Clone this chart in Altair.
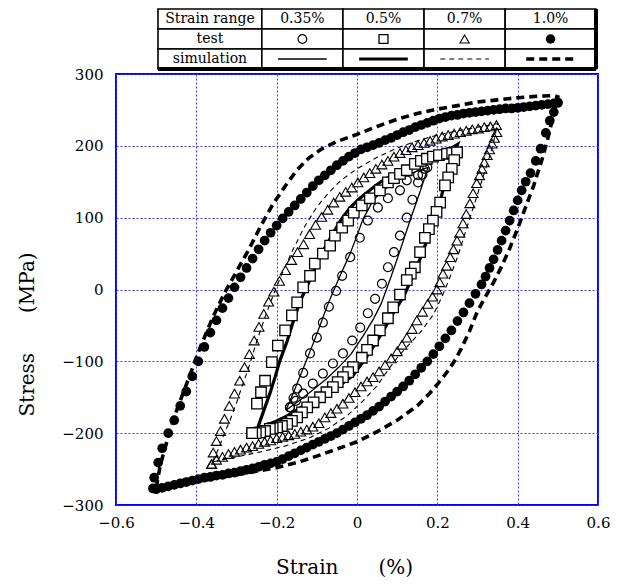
import altair as alt
import pandas as pd

# ---------------- data ----------------
series_labels = ["0.35%", "0.5%", "0.7%", "1.0%"]
table_header = "Strain range"
table_row_labels = ["test", "simulation"]
x_title = "Strain\u2003\u2003(%)"
y_title = "Stress\u2003\u2003(MPa)"

x_ticks = [-0.6, -0.4, -0.2, 0.0, 0.2, 0.4, 0.6]
y_ticks = [-300, -200, -100, 0, 100, 200, 300]

# test data: (strain %, stress MPa)
t035_up = [(-0.167, -164), (-0.158, -151), (-0.149, -138), (-0.134, -116), (-0.117, -89), (-0.100, -67),
           (-0.085, -46), (-0.070, -24), (-0.052, -2), (-0.037, 19), (-0.017, 45), (0.007, 72), (0.027, 96),
           (0.052, 114), (0.077, 127), (0.107, 138), (0.124, 152), (0.152, 159), (0.169, 168)]
t035_dn = [(0.175, 170), (0.163, 160), (0.152, 149), (0.138, 125), (0.124, 100), (0.107, 75), (0.092, 52),
           (0.077, 31), (0.062, 8), (0.045, -13), (0.027, -33), (0.008, -53), (-0.012, -71), (-0.035, -89),
           (-0.060, -103), (-0.085, -117), (-0.110, -131), (-0.134, -145), (-0.152, -155), (-0.167, -164)]

t05_up = [(-0.261, -200), (-0.249, -159), (-0.239, -143), (-0.229, -127), (-0.212, -101), (-0.197, -78),
          (-0.179, -57), (-0.162, -36), (-0.149, -18), (-0.134, 3), (-0.117, 19), (-0.105, 36), (-0.085, 50),
          (-0.067, 61), (-0.055, 75), (-0.037, 86), (-0.022, 96), (-0.008, 107), (0.012, 117), (0.032, 127),
          (0.057, 138), (0.077, 149), (0.092, 155), (0.107, 161), (0.124, 166), (0.144, 175), (0.159, 179),
          (0.174, 182), (0.189, 185), (0.204, 187), (0.224, 189), (0.237, 190), (0.249, 191)]
t05_dn = [(0.249, 191), (0.242, 180), (0.236, 168), (0.227, 156), (0.219, 145), (0.207, 121), (0.198, 108),
          (0.189, 96), (0.179, 84), (0.169, 72), (0.157, 52), (0.144, 31), (0.134, 22), (0.124, 13),
          (0.107, -7), (0.090, -25), (0.077, -40), (0.057, -57), (0.040, -71), (0.025, -84), (0.012, -95),
          (-0.010, -108), (-0.022, -115), (-0.035, -122), (-0.048, -129), (-0.060, -136), (-0.076, -143),
          (-0.092, -150), (-0.108, -157), (-0.124, -164), (-0.137, -171), (-0.149, -178), (-0.162, -183),
          (-0.174, -187), (-0.187, -190), (-0.199, -192), (-0.210, -193), (-0.217, -194), (-0.229, -197),
          (-0.241, -199), (-0.252, -200), (-0.261, -200)]

t07_up = [(-0.362, -243), (-0.358, -227), (-0.350, -211), (-0.340, -197), (-0.330, -180), (-0.318, -162),
          (-0.305, -145), (-0.292, -127), (-0.280, -108), (-0.268, -90), (-0.256, -71), (-0.244, -52),
          (-0.232, -34), (-0.220, -17), (-0.207, -3), (-0.193, 12), (-0.178, 27), (-0.163, 41), (-0.148, 52),
          (-0.133, 63), (-0.118, 77), (-0.103, 90), (-0.088, 101), (-0.073, 111), (-0.058, 121), (-0.043, 129),
          (-0.028, 136), (-0.013, 142), (0.002, 149), (0.017, 156), (0.032, 162), (0.047, 168), (0.062, 174),
          (0.077, 179), (0.092, 185), (0.107, 190), (0.122, 194), (0.137, 198), (0.152, 201), (0.167, 204),
          (0.182, 207), (0.197, 210), (0.212, 213), (0.227, 215), (0.242, 217), (0.257, 219), (0.272, 221),
          (0.287, 223), (0.302, 224), (0.317, 226), (0.332, 227), (0.347, 229)]
t07_dn = [(0.348, 219), (0.342, 211), (0.336, 203), (0.330, 195), (0.324, 187), (0.317, 177), (0.311, 168),
          (0.305, 159), (0.298, 148), (0.289, 134), (0.281, 120), (0.272, 105), (0.264, 92), (0.256, 79),
          (0.249, 68), (0.240, 56), (0.232, 45), (0.223, 33), (0.214, 22), (0.206, 10), (0.199, 0),
          (0.188, -10), (0.176, -20), (0.163, -31), (0.149, -43), (0.137, -55), (0.124, -67), (0.112, -77),
          (0.100, -86), (0.085, -96), (0.070, -105), (0.055, -114), (0.040, -122), (0.025, -128), (0.010, -135),
          (-0.005, -143), (-0.020, -151), (-0.035, -159), (-0.050, -166), (-0.065, -172), (-0.080, -178),
          (-0.095, -186), (-0.110, -191), (-0.125, -195), (-0.140, -198), (-0.155, -201), (-0.170, -203),
          (-0.185, -205), (-0.200, -207), (-0.215, -210), (-0.230, -212), (-0.245, -215), (-0.260, -218),
          (-0.275, -220), (-0.290, -223), (-0.305, -226), (-0.320, -229), (-0.335, -233), (-0.350, -237),
          (-0.362, -243)]

t10_up = [(-0.508, -277), (-0.505, -262), (-0.495, -241), (-0.485, -221), (-0.470, -200), (-0.455, -182),
          (-0.440, -162), (-0.425, -142), (-0.410, -121), (-0.395, -100), (-0.380, -80), (-0.365, -60),
          (-0.350, -43), (-0.335, -26), (-0.320, -12), (-0.305, 3), (-0.290, 17), (-0.275, 30), (-0.260, 43),
          (-0.245, 56), (-0.230, 68), (-0.215, 79), (-0.200, 89), (-0.185, 99), (-0.170, 108), (-0.155, 117),
          (-0.140, 126), (-0.125, 135), (-0.110, 144), (-0.095, 152), (-0.080, 159), (-0.065, 166),
          (-0.050, 173), (-0.035, 179), (-0.020, 185), (-0.005, 190), (0.010, 195), (0.025, 198), (0.040, 201),
          (0.055, 204), (0.070, 208), (0.085, 211), (0.100, 215), (0.115, 219), (0.130, 222), (0.145, 226),
          (0.160, 229), (0.175, 232), (0.190, 235), (0.205, 238), (0.220, 240), (0.235, 242), (0.250, 243),
          (0.265, 245), (0.280, 246), (0.295, 247), (0.310, 248), (0.325, 249), (0.340, 250), (0.355, 251),
          (0.370, 252), (0.385, 252), (0.400, 253), (0.415, 254), (0.430, 255), (0.445, 256), (0.460, 257),
          (0.475, 258), (0.490, 259), (0.500, 260)]
t10_dn = [(0.500, 260), (0.490, 247), (0.480, 235), (0.470, 218), (0.457, 196), (0.445, 179), (0.432, 162),
          (0.420, 150), (0.410, 138), (0.400, 124), (0.390, 110), (0.380, 96), (0.370, 82), (0.360, 68),
          (0.350, 55), (0.340, 42), (0.330, 30), (0.320, 18), (0.310, 7), (0.295, -6), (0.280, -19),
          (0.265, -32), (0.250, -44), (0.235, -57), (0.220, -68), (0.205, -79), (0.190, -90), (0.175, -100),
          (0.160, -109), (0.145, -118), (0.130, -127), (0.115, -135), (0.100, -142), (0.085, -149),
          (0.070, -156), (0.055, -163), (0.040, -169), (0.025, -175), (0.010, -180), (-0.005, -185),
          (-0.020, -190), (-0.035, -195), (-0.050, -200), (-0.065, -204), (-0.080, -208), (-0.095, -212),
          (-0.110, -216), (-0.125, -220), (-0.140, -224), (-0.155, -228), (-0.170, -232), (-0.185, -236),
          (-0.200, -240), (-0.215, -242), (-0.230, -244), (-0.245, -247), (-0.260, -249), (-0.275, -251),
          (-0.290, -253), (-0.305, -255), (-0.320, -256), (-0.335, -258), (-0.350, -259), (-0.365, -261),
          (-0.380, -262), (-0.395, -264), (-0.410, -266), (-0.425, -268), (-0.440, -270), (-0.455, -272),
          (-0.470, -274), (-0.485, -276), (-0.500, -278)]

# simulation curves
s035_up = [(-0.177, -168), (-0.163, -150), (-0.149, -131), (-0.129, -103), (-0.109, -75), (-0.090, -47),
           (-0.075, -24), (-0.060, -4), (-0.040, 22), (-0.017, 50), (0.000, 75), (0.015, 98), (0.040, 124),
           (0.065, 138), (0.090, 148), (0.110, 155), (0.132, 161), (0.155, 166), (0.177, 170)]
s035_dn = [(0.177, 170), (0.155, 133), (0.132, 96), (0.107, 54), (0.085, 18), (0.060, -20), (0.040, -42),
           (0.015, -65), (-0.015, -90), (-0.045, -108), (-0.075, -124), (-0.110, -140), (-0.140, -153),
           (-0.177, -168)]

s05_up = [(-0.250, -197), (-0.233, -170), (-0.217, -145), (-0.204, -122), (-0.192, -99), (-0.174, -72),
          (-0.159, -45), (-0.142, -17), (-0.120, 10), (-0.100, 36), (-0.080, 58), (-0.060, 78), (-0.040, 97),
          (-0.017, 114), (0.005, 126), (0.025, 135), (0.045, 144), (0.065, 152), (0.095, 161), (0.124, 168),
          (0.155, 176), (0.189, 184), (0.220, 192), (0.250, 202)]
s05_dn = [(0.250, 202), (0.243, 192), (0.236, 180), (0.225, 160), (0.214, 138), (0.199, 106), (0.187, 87),
          (0.174, 68), (0.162, 50), (0.149, 31), (0.132, 10), (0.115, -11), (0.090, -33), (0.070, -53),
          (0.050, -72), (0.020, -97), (-0.010, -120), (-0.040, -132), (-0.067, -141), (-0.095, -150),
          (-0.124, -159), (-0.150, -168), (-0.174, -176), (-0.200, -183), (-0.224, -189), (-0.250, -197)]

s07_up = [(-0.360, -240), (-0.345, -222), (-0.330, -200), (-0.316, -182), (-0.300, -158), (-0.290, -141),
          (-0.270, -109), (-0.250, -73), (-0.230, -40), (-0.210, -10), (-0.190, 18), (-0.160, 55),
          (-0.130, 88), (-0.100, 115), (-0.070, 135), (-0.040, 152), (0.000, 168), (0.050, 184),
          (0.100, 197), (0.150, 207), (0.200, 215), (0.250, 221), (0.300, 226), (0.350, 231)]
s07_dn = [(0.350, 231), (0.340, 205), (0.330, 185), (0.310, 150), (0.290, 115), (0.270, 80), (0.250, 45),
          (0.230, 15), (0.210, -12), (0.190, -35), (0.160, -58), (0.124, -80), (0.100, -95), (0.080, -110),
          (0.050, -134), (0.015, -155), (-0.025, -176), (-0.070, -193), (-0.120, -207), (-0.180, -218),
          (-0.240, -226), (-0.300, -233), (-0.360, -240)]

s10_up = [(-0.500, -276), (-0.490, -245), (-0.470, -205), (-0.450, -170), (-0.420, -125), (-0.390, -80),
          (-0.360, -40), (-0.330, -5), (-0.300, 25), (-0.270, 55), (-0.240, 88), (-0.210, 118), (-0.180, 143),
          (-0.150, 166), (-0.120, 183), (-0.090, 195), (-0.050, 206), (0.000, 216), (0.050, 227),
          (0.100, 237), (0.150, 245), (0.200, 251), (0.250, 256), (0.300, 261), (0.350, 264), (0.400, 267),
          (0.450, 269), (0.490, 270), (0.500, 268)]
s10_dn = [(0.500, 268), (0.490, 245), (0.475, 210), (0.460, 180), (0.440, 145), (0.420, 115), (0.400, 85),
          (0.380, 57), (0.360, 32), (0.340, 10), (0.320, -10), (0.300, -30), (0.280, -58), (0.260, -82),
          (0.240, -102), (0.220, -118), (0.200, -132), (0.180, -145), (0.150, -162), (0.100, -182),
          (0.050, -198), (0.000, -212), (-0.050, -222), (-0.100, -232), (-0.150, -241), (-0.200, -248),
          (-0.250, -253), (-0.300, -258), (-0.350, -262), (-0.400, -266), (-0.450, -270), (-0.500, -276)]

test_branches = {"0.35%": (t035_up, t035_dn), "0.5%": (t05_up, t05_dn),
                 "0.7%": (t07_up, t07_dn), "1.0%": (t10_up, t10_dn)}
sim_branches = {"0.35%": (s035_up, s035_dn), "0.5%": (s05_up, s05_dn),
                "0.7%": (s07_up, s07_dn), "1.0%": (s10_up, s10_dn)}

# ---------------- styles / layout ----------------
BLUE = "#0000ff"
GRID_BLUE = "#3b3bff"
FONT = "DejaVu Serif"

test_style = {
    "0.35%": dict(shape="circle", filled=False, color="black", size=80, strokeWidth=1.2),
    "0.5%": dict(shape="square", filled=True, fill="white", stroke="black", size=110, strokeWidth=1.3),
    "0.7%": dict(shape="triangle-up", filled=False, color="black", size=100, strokeWidth=1.1),
    "1.0%": dict(shape="circle", filled=True, color="black", size=95),
}
legend_size = {"0.35%": 75, "0.5%": 80, "0.7%": 85, "1.0%": 90}
sim_style = {
    "0.35%": dict(strokeWidth=1.3),
    "0.5%": dict(strokeWidth=3.2),
    "0.7%": dict(strokeWidth=1.1, strokeDash=[5, 4]),
    "1.0%": dict(strokeWidth=3.6, strokeDash=[8, 5]),
}

PLOT_W, PLOT_H = 482, 431
table_col_edges = [0, 1.28, 2.28, 3.28, 4.28, 5.4]   # table units
table_x_range = [42, 480]                              # px inside plot coords
table_y_range = [-65, -5]


def branch_df(up, dn, label):
    pts = list(up) + list(dn)
    return pd.DataFrame({"strain": [p[0] for p in pts], "stress": [p[1] for p in pts],
                         "i": list(range(len(pts))), "series": label})


x_axis = alt.Axis(values=x_ticks, labelExpr="datum.value == 0 ? '0' : format(datum.value, '.1f')",
                  grid=True, gridColor=GRID_BLUE, gridDash=[2, 2], gridWidth=1, ticks=False, domain=False,
                  labelFont=FONT, labelFontSize=15, labelColor="black", labelPadding=10, labelFlush=False,
                  labelOverlap=False, title=x_title, titleFont=FONT, titleFontSize=20,
                  titleFontWeight="normal", titleColor="black", titleX=228, titleY=62,
                  titleAlign="center", titleBaseline="middle")
y_axis = alt.Axis(values=y_ticks, format="d", grid=True, gridColor=GRID_BLUE, gridDash=[2, 2], gridWidth=1,
                  ticks=False, domain=False, labelFont=FONT, labelFontSize=15, labelColor="black",
                  labelPadding=13, labelFlush=False, labelOverlap=False, title=y_title,
                  titleFont=FONT, titleFontSize=20, titleFontWeight="normal", titleColor="black",
                  titleAngle=270, titleX=-89, titleY=260, titleAlign="center", titleBaseline="middle")

xs = alt.Scale(domain=[-0.6, 0.6], nice=False, zero=False)
ys = alt.Scale(domain=[-300, 300], nice=False, zero=False)

layers = []
for lab in series_labels:
    up, dn = sim_branches[lab]
    layers.append(alt.Chart(branch_df(up, dn, lab)).mark_line(color="black", **sim_style[lab]).encode(
        x=alt.X("strain:Q", scale=xs, axis=x_axis),
        y=alt.Y("stress:Q", scale=ys, axis=y_axis),
        order="i:Q"))
for lab in series_labels:
    up, dn = test_branches[lab]
    layers.append(alt.Chart(branch_df(up, dn, lab)).mark_point(opacity=1, **test_style[lab]).encode(
        x=alt.X("strain:Q", scale=xs, axis=x_axis),
        y=alt.Y("stress:Q", scale=ys, axis=y_axis)))
main = alt.layer(*layers)

# ---------------- table legend ----------------
tx = alt.Scale(domain=[table_col_edges[0], table_col_edges[-1]], range=table_x_range, nice=False, zero=False)
ty = alt.Scale(domain=[0, 3], range=table_y_range, nice=False, zero=False)

cells = []
texts = []
row_first = [table_header] + table_row_labels
for r in range(3):
    for c in range(5):
        x0, x1 = table_col_edges[c], table_col_edges[c + 1]
        cells.append({"x0": x0, "x1": x1, "y0": r, "y1": r + 1})
        if c == 0:
            texts.append({"xc": (x0 + x1) / 2, "yc": r + 0.5, "t": row_first[r]})
        elif r == 0:
            texts.append({"xc": (x0 + x1) / 2, "yc": r + 0.5, "t": series_labels[c - 1]})
cells_df = pd.DataFrame(cells)
texts_df = pd.DataFrame(texts)

tlayers = [
    alt.Chart(cells_df).mark_rect(fill="white", stroke="black", strokeWidth=1.6).encode(
        x=alt.X("x0:Q", scale=tx, axis=None), x2="x1:Q",
        y=alt.Y("y0:Q", scale=ty, axis=None), y2="y1:Q"),
    alt.Chart(pd.DataFrame({"x0": [table_col_edges[-1]], "y0": [0], "y1": [3]})).mark_rule(
        color="black", strokeWidth=4).encode(
        x=alt.X("x0:Q", scale=tx, axis=None), y=alt.Y("y0:Q", scale=ty, axis=None), y2="y1:Q"),
    alt.Chart(pd.DataFrame({"x0": [table_col_edges[0]], "x1": [table_col_edges[-1]], "y0": [3]})).mark_rule(
        color="black", strokeWidth=4).encode(
        x=alt.X("x0:Q", scale=tx, axis=None), x2="x1:Q", y=alt.Y("y0:Q", scale=ty, axis=None)),
    alt.Chart(texts_df).mark_text(font=FONT, fontSize=14, color="black", align="center",
                                  baseline="middle").encode(
        x=alt.X("xc:Q", scale=tx, axis=None), y=alt.Y("yc:Q", scale=ty, axis=None), text="t:N"),
]
for k, lab in enumerate(series_labels):
    c = k + 1
    xc = (table_col_edges[c] + table_col_edges[c + 1]) / 2
    sty = dict(test_style[lab])
    sty["size"] = legend_size[lab]
    tlayers.append(alt.Chart(pd.DataFrame({"xc": [xc], "yc": [1.5]})).mark_point(opacity=1, **sty).encode(
        x=alt.X("xc:Q", scale=tx, axis=None), y=alt.Y("yc:Q", scale=ty, axis=None)))
    tlayers.append(alt.Chart(pd.DataFrame({"xa": [xc - 0.3], "xb": [xc + 0.3], "yc": [2.5]})).mark_rule(
        color="black", **sim_style[lab]).encode(
        x=alt.X("xa:Q", scale=tx, axis=None), x2="xb:Q", y=alt.Y("yc:Q", scale=ty, axis=None)))
table = alt.layer(*tlayers)

chart = alt.layer(main, table).resolve_scale(x="independent", y="independent").properties(
    width=PLOT_W, height=PLOT_H, autosize="none",
    padding={"left": 116, "top": 74, "right": 23, "bottom": 80},
    background="white",
).configure_view(stroke=BLUE, strokeWidth=2)

chart.save("out.html", embed_options={"renderer": "svg", "actions": False})
